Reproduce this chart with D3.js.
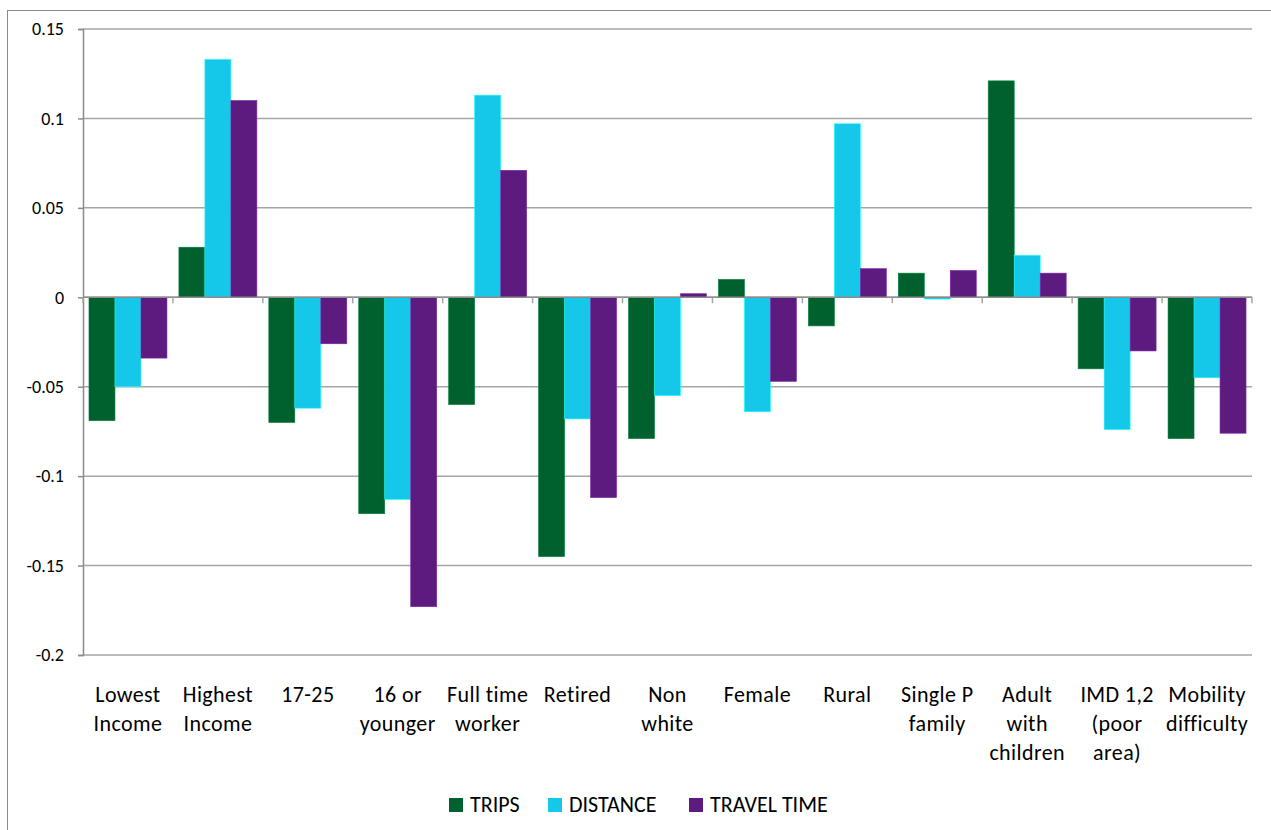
<!DOCTYPE html>
<html>
<head>
<meta charset="utf-8">
<script src="https://cdn.jsdelivr.net/npm/d3@7"></script>
<style>
  body { margin: 0; background: #fff; }
  text { font-family: "Carlito", "Liberation Sans Narrow", "Liberation Sans", sans-serif; fill: #000; }
</style>
</head>
<body>
<div id="chart"></div>
<script>
const categories = [
  ['Lowest', 'Income'], ['Highest', 'Income'], ['17-25'], ['16 or', 'younger'],
  ['Full time', 'worker'], ['Retired'], ['Non', 'white'], ['Female'], ['Rural'],
  ['Single P', 'family'], ['Adult', 'with', 'children'], ['IMD 1,2', '(poor', 'area)'],
  ['Mobility', 'difficulty']
];
const seriesNames = ['TRIPS', 'DISTANCE', 'TRAVEL TIME'];
const trips =      [-0.069, 0.028, -0.070, -0.121, -0.060, -0.145, -0.079, 0.010, -0.016, 0.0135, 0.121, -0.040, -0.079];
const distance =   [-0.050, 0.133, -0.062, -0.113, 0.113, -0.068, -0.055, -0.064, 0.097, -0.001, 0.0235, -0.074, -0.045];
const travelTime = [-0.034, 0.110, -0.026, -0.173, 0.071, -0.112, 0.002, -0.047, 0.016, 0.015, 0.0135, -0.030, -0.076];
const yTicks = [0.15, 0.1, 0.05, 0, -0.05, -0.1, -0.15, -0.2];
const colors = ['#00612E', '#15C7E8', '#5D1B80'];

const width = 1271, height = 830;
const plotLeft = 83, plotRight = 1252, plotTop = 29, plotBottom = 655;

const svg = d3.select('#chart').append('svg')
  .attr('width', width)
  .attr('height', height);

// outer chart frame
svg.append('rect')
  .attr('x', 7.5).attr('y', 10.5)
  .attr('width', width + 10).attr('height', height + 10)
  .attr('fill', 'none').attr('stroke', '#8c8c8c').attr('stroke-width', 1);

const x = d3.scaleBand()
  .domain(d3.range(categories.length))
  .range([plotLeft, plotRight])
  .paddingInner(0).paddingOuter(0);

const x1 = d3.scaleBand()
  .domain(seriesNames)
  .range([0, x.bandwidth()])
  .paddingInner(0)
  .paddingOuter(0.23);

const y = d3.scaleLinear()
  .domain([-0.2, 0.15])
  .range([plotBottom, plotTop]);

const color = d3.scaleOrdinal(seriesNames, colors);

// gridlines
svg.append('g')
  .selectAll('line')
  .data(yTicks)
  .join('line')
  .attr('x1', plotLeft).attr('x2', plotRight)
  .attr('y1', d => y(d)).attr('y2', d => y(d))
  .attr('stroke', '#a6a6a6').attr('stroke-width', 1.5);

// y axis
const yAxis = svg.append('g')
  .attr('transform', `translate(${plotLeft},0)`)
  .call(d3.axisLeft(y).tickValues(yTicks).tickSize(5).tickPadding(14)
    .tickFormat(d => d === 0 ? '0' : String(+d.toFixed(2))));
yAxis.select('.domain').attr('stroke', '#8c8c8c').attr('stroke-width', 1.5);
yAxis.selectAll('.tick line').attr('stroke', '#8c8c8c').attr('stroke-width', 1.5);
yAxis.selectAll('.tick text').style('font-size', '18px').attr('fill', '#000');

// bars
const data = categories.map((c, i) => ({
  i,
  values: [
    { key: 'TRIPS', value: trips[i] },
    { key: 'DISTANCE', value: distance[i] },
    { key: 'TRAVEL TIME', value: travelTime[i] }
  ]
}));

svg.append('g')
  .selectAll('g')
  .data(data)
  .join('g')
  .attr('transform', d => `translate(${x(d.i)},0)`)
  .selectAll('rect')
  .data(d => d.values)
  .join('rect')
  .attr('x', d => x1(d.key))
  .attr('width', x1.bandwidth())
  .attr('y', d => y(Math.max(0, d.value)))
  .attr('height', d => Math.abs(y(d.value) - y(0)))
  .attr('fill', d => color(d.key))
  .attr('stroke', d => d3.color(color(d.key)).brighter(0.8))
  .attr('stroke-width', 0.6);

// x axis line at zero with category ticks
const xAxis = svg.append('g').attr('transform', `translate(0,${y(0)})`);
xAxis.append('line')
  .attr('x1', plotLeft).attr('x2', plotRight)
  .attr('stroke', '#8c8c8c').attr('stroke-width', 1.5);
xAxis.selectAll('.tk')
  .data(d3.range(categories.length + 1))
  .join('line')
  .attr('class', 'tk')
  .attr('x1', d => plotLeft + d * x.step()).attr('x2', d => plotLeft + d * x.step())
  .attr('y1', 0).attr('y2', 6)
  .attr('stroke', '#a6a6a6').attr('stroke-width', 1.5);

// category labels
const labels = svg.append('g')
  .selectAll('text')
  .data(categories)
  .join('text')
  .attr('x', (d, i) => x(i) + x.bandwidth() / 2)
  .attr('y', 702)
  .attr('text-anchor', 'middle')
  .style('font-size', '22px')
  .style('letter-spacing', '0.4px');
labels.selectAll('tspan')
  .data(d => d)
  .join('tspan')
  .attr('x', function () { return this.parentNode.getAttribute('x'); })
  .attr('dy', (d, j) => j === 0 ? 0 : 29)
  .text(d => d);

// legend
const legendX = [449, 548, 689];
const legend = svg.append('g')
  .selectAll('g')
  .data(seriesNames)
  .join('g')
  .attr('transform', (d, i) => `translate(${legendX[i]},798)`);
legend.append('rect')
  .attr('width', 14).attr('height', 14)
  .attr('y', 0)
  .attr('fill', d => color(d));
legend.append('text')
  .attr('x', 21).attr('y', 14)
  .style('font-size', '22px')
  .text(d => d);
</script>
</body>
</html>
